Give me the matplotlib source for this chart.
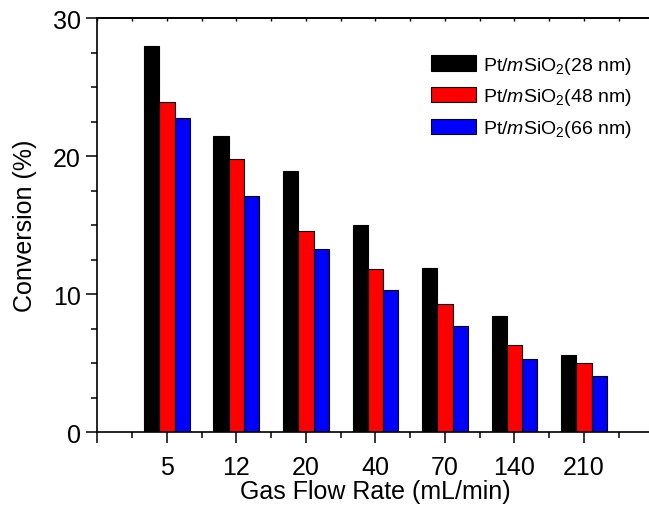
import numpy as np
import matplotlib
matplotlib.use("Agg")
import matplotlib.pyplot as plt

plt.rcParams['font.family'] = ['Liberation Sans', 'DejaVu Sans']
plt.rcParams['mathtext.fontset'] = 'custom'
plt.rcParams['mathtext.rm'] = 'Liberation Sans'
plt.rcParams['mathtext.it'] = 'Liberation Sans:italic'

# data
flow_labels = ['5', '12', '20', '40', '70', '140', '210']
conv_28 = [28.0, 21.5, 18.9, 15.0, 11.9, 8.4, 5.6]
conv_48 = [23.9, 19.8, 14.6, 11.8, 9.3, 6.3, 5.0]
conv_66 = [22.8, 17.1, 13.3, 10.3, 7.7, 5.3, 4.1]
series_names = [r'Pt/$\mathit{m}$SiO$_2$(28 nm)',
                r'Pt/$\mathit{m}$SiO$_2$(48 nm)',
                r'Pt/$\mathit{m}$SiO$_2$(66 nm)']
colors = ['black', 'red', 'blue']

fig = plt.figure(figsize=(6.49, 5.10), dpi=100)
ax = fig.add_axes([0.150, 0.1504, 0.857, 0.8118])

x = np.arange(1, len(flow_labels) + 1)
width = 0.22
for i, (vals, name, c) in enumerate(zip([conv_28, conv_48, conv_66], series_names, colors)):
    ax.bar(x + (i - 1) * width, vals, width, color=c, edgecolor='black',
           linewidth=0.8, label=name)

ax.set_xlim(0, 8)
ax.set_ylim(0, 30)

# bottom axis ticks
ax.set_xticks(np.arange(0, 8))
ax.set_xticklabels([''] + flow_labels)
ax.set_xticks(np.arange(0.5, 8, 1.0), minor=True)
ax.set_yticks([0, 10, 20, 30])
ax.set_yticks(np.arange(0, 30.1, 2.5), minor=True)
ax.tick_params(axis='both', which='major', direction='out', length=8, width=1.1,
               labelsize=18, pad=4)
ax.tick_params(axis='both', which='minor', direction='out', length=4.5, width=1.1)
ax.tick_params(axis='x', which='major', pad=8)

for side in ['left', 'bottom', 'top']:
    ax.spines[side].set_linewidth(1.2)
ax.spines['right'].set_visible(False)

# top axis with small inward ticks
top = ax.twiny()
top.set_xlim(ax.get_xlim())
top.set_xticks(np.arange(0, 8.01, 0.5))
top.tick_params(axis='x', direction='in', length=2.5, width=1.0, labeltop=False)
for side in ['left', 'right', 'bottom']:
    top.spines[side].set_visible(False)
top.spines['top'].set_linewidth(1.2)

ax.set_xlabel('Gas Flow Rate (mL/min)', fontsize=18, labelpad=0)
ax.set_ylabel('Conversion (%)', fontsize=18, labelpad=11)

ax.legend(loc='upper right', bbox_to_anchor=(0.985, 0.945), frameon=False,
          fontsize=14, handlelength=2.3, handleheight=0.85, handletextpad=0.35,
          labelspacing=0.55, borderaxespad=0.3)

fig.savefig('out.png', dpi=100)
